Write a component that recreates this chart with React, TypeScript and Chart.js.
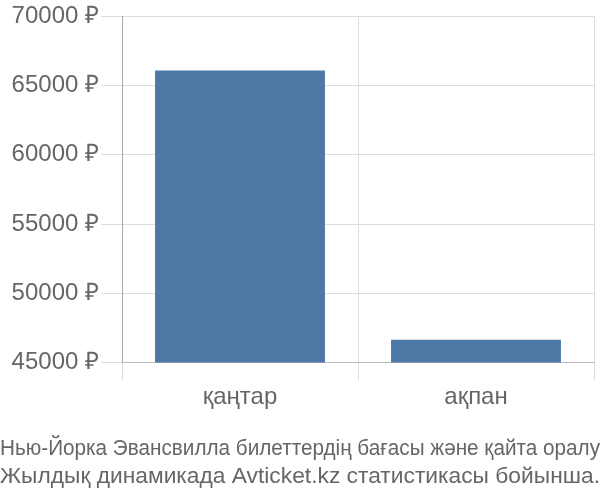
import React, { useEffect, useRef } from "react";
import { Chart, registerables } from "chart.js";

Chart.register(...registerables);

const categories = ["қаңтар", "ақпан"];
const prices = [66100, 46650];
const titleLines = [
  "Нью-Йорка Эвансвилла билеттердің бағасы және қайта оралу",
  "Жылдық динамикада Avticket.kz статистикасы бойынша.",
];

const FONT = "'Liberation Sans', Arial, sans-serif";

export default function App() {
  const ref = useRef<HTMLCanvasElement | null>(null);
  useEffect(() => {
    if (!ref.current) return;
    const chart = new Chart(ref.current, {
      type: "bar",
      data: {
        labels: categories,
        datasets: [
          {
            data: prices,
            backgroundColor: "#4e79a7",
            borderWidth: 0,
          },
        ],
      },
      options: {
        responsive: false,
        animation: false,
        layout: { padding: 0 },
        plugins: {
          legend: { display: false },
          tooltip: { enabled: false },
          title: {
            display: true,
            position: "bottom",
            text: titleLines,
            color: "#666",
            font: { family: FONT, size: 22.8, weight: "normal" },
            padding: { top: 22, bottom: 10 },
            lineHeight: 1.23,
          },
        },
        scales: {
          x: {
            grid: { color: "#ddd", tickLength: 18, offset: true },
            border: { color: "#bbb" },
            ticks: {
              color: "#666",
              font: { family: FONT, size: 24 },
              padding: 2,
            },
          },
          y: {
            min: 45000,
            max: 70000,
            grid: { color: "#ddd", tickLength: 21 },
            border: { color: "#aaa" },
            afterFit: (s: any) => {
              s.width = 122;
            },
            ticks: {
              stepSize: 5000,
              color: "#666",
              font: { family: FONT, size: 24 },
              padding: 2,
              callback: (v: any) => v + " ₽",
            },
          },
          y2: {
            position: "right",
            display: true,
            grid: { display: false, drawTicks: false },
            border: { display: false },
            ticks: { display: false },
            afterFit: (s: any) => {
              s.width = 6;
            },
          },
        },
      },
    });
    return () => chart.destroy();
  }, []);
  return (
    <canvas
      ref={ref}
      width={600}
      height={500}
      style={{ position: "absolute", left: 0, top: 0 }}
    />
  );
}
